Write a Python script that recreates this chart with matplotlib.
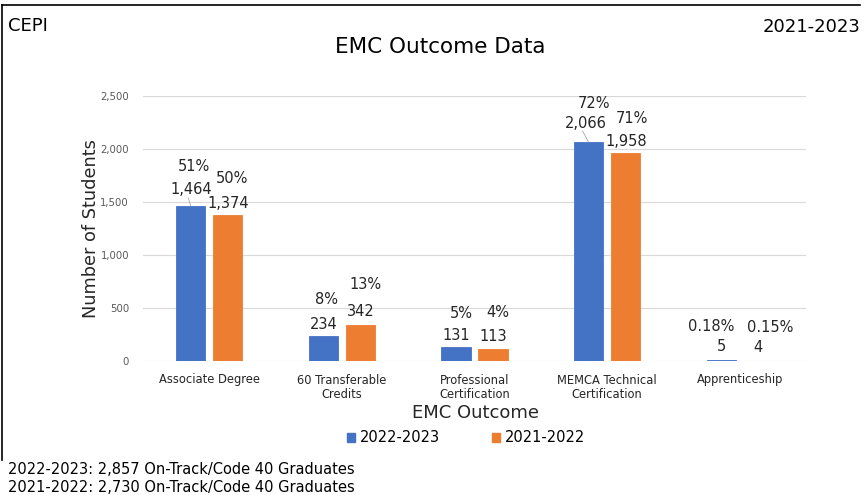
import matplotlib
matplotlib.use("Agg")
import matplotlib.pyplot as plt
from matplotlib.patches import Patch
from matplotlib.lines import Line2D
import matplotlib.ticker as mticker

plt.rcParams['font.family'] = ['DejaVu Sans']

# ---- data ----
categories = ["Associate Degree", "60 Transferable\nCredits", "Professional\nCertification",
              "MEMCA Technical\nCertification", "Apprenticeship"]
series_names = ["2022-2023", "2021-2022"]
values_2223 = [1464, 234, 131, 2066, 5]
values_2122 = [1374, 342, 113, 1958, 4]
pct_2223 = ["51%", "8%", "5%", "72%", "0.18%"]
pct_2122 = ["50%", "13%", "4%", "71%", "0.15%"]
graduates = [2857, 2730]
yticks = [0, 500, 1000, 1500, 2000, 2500]

# ---- layout (pixel offsets of labels relative to bar tops) ----
val_dx = [[0.5, 0, 0, -3, 0], [0.5, 0, 0, 1, 0]]
val_dy = [[16, 12, 12, 19, 13.5], [12, 13, 13, 12, 13.5]]
pct_dx = [[3.5, 3.5, 5, 5, -10], [4.5, 5, 5, 6, 12]]
pct_dy = [[39, 37, 34, 39, 33.5], [37, 40, 37, 35, 33.5]]
leader = [[True, False, False, True, False], [False] * 5]

colors = ["#4472C4", "#ED7D31"]
W, H = 865, 495
fig = plt.figure(figsize=(W / 100, H / 100), dpi=100)
ax = fig.add_axes([143 / W, 1 - 361 / H, (806 - 143) / W, (361 - 96) / H])

x = list(range(len(categories)))
offsets = [-0.14, 0.14]
width = 0.22
series = [values_2223, values_2122]
pcts = [pct_2223, pct_2122]

for s in range(2):
    xs = [xi + offsets[s] for xi in x]
    bars = ax.bar(xs, series[s], width=width, color=colors[s], edgecolor=colors[s],
                  linewidth=0.6, zorder=3, label=series_names[s])
    for i, b in enumerate(bars):
        cx = b.get_x() + b.get_width() / 2
        top = b.get_height()
        ax.annotate(f"{series[s][i]:,}", (cx, top), xytext=(val_dx[s][i], val_dy[s][i]),
                    textcoords="offset pixels", ha="center", va="center",
                    fontsize=10.5, color="#262626", zorder=4)
        ax.annotate(pcts[s][i], (cx, top), xytext=(pct_dx[s][i], pct_dy[s][i]),
                    textcoords="offset pixels", ha="center", va="center",
                    fontsize=10.5, color="#262626", zorder=4)
        if leader[s][i]:
            ax.annotate("", (cx, top), xytext=(val_dx[s][i] - 3, val_dy[s][i] - 8),
                        textcoords="offset pixels",
                        arrowprops=dict(arrowstyle="-", color="#a6a6a6", lw=0.6,
                                        shrinkA=0, shrinkB=0))

ax.set_xlim(-0.5, len(categories) - 0.5)
ax.set_ylim(0, 2500)
ax.set_yticks(yticks)
ax.yaxis.set_major_formatter(mticker.FuncFormatter(lambda v, p: f"{int(v):,}"))
ax.grid(axis="y", color="#d9d9d9", lw=0.8, zorder=0)
for sp in ax.spines.values():
    sp.set_visible(False)
ax.tick_params(axis="y", length=0, labelsize=7.3, labelcolor="#595959", pad=10)
ax.tick_params(axis="x", length=0, labelsize=8.3, labelcolor="#262626", pad=9)
ax.set_xticks(x)
ax.set_xticklabels(categories, linespacing=1.2)
ax.set_ylabel("Number of Students", fontsize=12.8, color="#262626")
ax.yaxis.set_label_coords(-(143 - 100) / (806 - 143), 0.5)
ax.set_xlabel("EMC Outcome", fontsize=13, color="#262626")
ax.xaxis.set_label_coords((475 - 143) / (806 - 143), -(404 - 361) / (361 - 96))

handles = [Patch(color=c) for c in colors]
fig.legend(handles, series_names, loc="center", bbox_to_anchor=(466 / W, 1 - 438 / H),
           ncol=2, frameon=False, fontsize=10.5, handlelength=0.55, handleheight=0.55,
           handletextpad=0.3, columnspacing=3.6)

fig.text(8 / W, 1 - 26 / H, "CEPI", fontsize=13, va="center", ha="left", color="#000000")
fig.text(860 / W, 1 - 27 / H, "2021-2023", fontsize=13, va="center", ha="right", color="#000000")
fig.text(440 / W, 1 - 47 / H, "EMC Outcome Data", fontsize=15.5, va="center", ha="center", color="#000000")
fig.text(8 / W, 1 - 469 / H, f"{series_names[0]}: {graduates[0]:,} On-Track/Code 40 Graduates",
         fontsize=10.5, va="center", ha="left")
fig.text(8 / W, 1 - 487 / H, f"{series_names[1]}: {graduates[1]:,} On-Track/Code 40 Graduates",
         fontsize=10.5, va="center", ha="left")

# frame border (top and left)
fig.add_artist(Line2D([1.5 / W, 860 / W], [1 - 5 / H, 1 - 5 / H], color="black", lw=1.2,
                      transform=fig.transFigure))
fig.add_artist(Line2D([1.5 / W, 1.5 / W], [1 - 5 / H, 1 - 460 / H], color="black", lw=1.2,
                      transform=fig.transFigure))

fig.savefig("out.png", dpi=100)
